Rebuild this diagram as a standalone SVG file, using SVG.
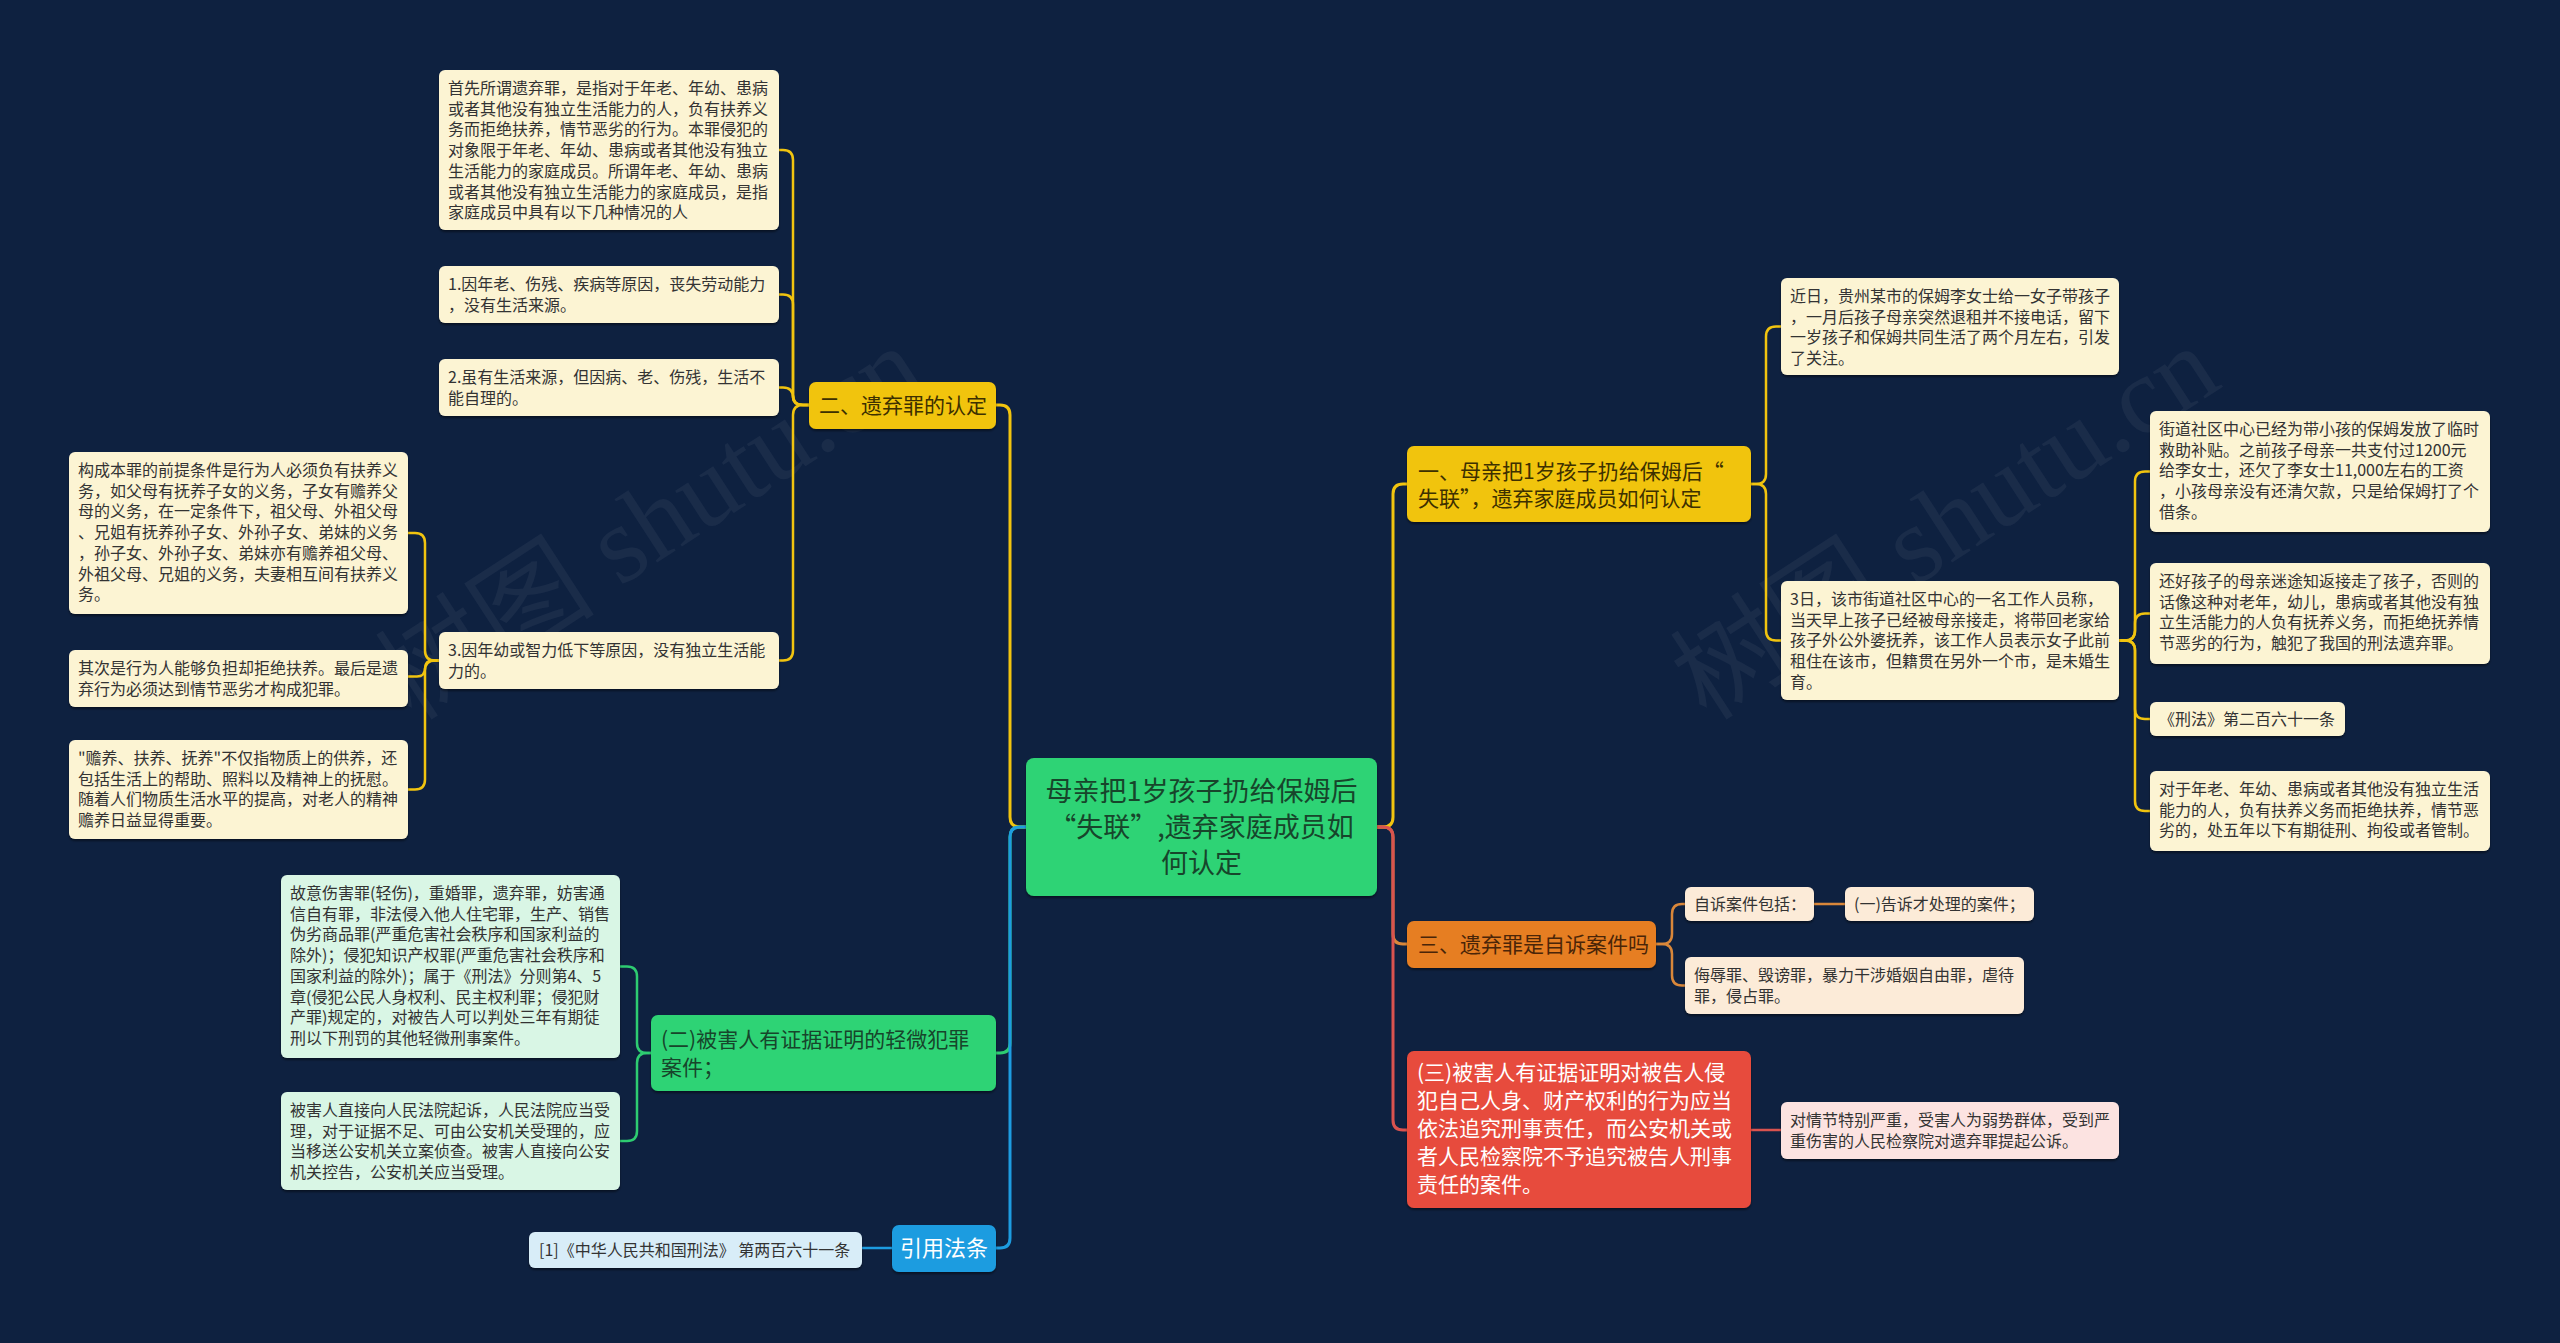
<svg xmlns="http://www.w3.org/2000/svg" width="2560" height="1343" viewBox="0 0 2560 1343">
<defs>
<filter id="sh" x="-5%" y="-5%" width="110%" height="120%"><feDropShadow dx="0" dy="2" stdDeviation="1.2" flood-color="#000" flood-opacity="0.45"/></filter>
</defs>
<style>
text{font-family:"Noto Sans CJK SC","Noto Sans",sans-serif;}
.lf{font-size:16px;fill:#333;}
.cream{fill:#fcf4d3;}
.mint{fill:#d9f6e5;}
.sky{fill:#d8edf8;}
.peach{fill:#fcebd8;}
.pink{fill:#fce3e1;}
.box{filter:url(#sh);}
.c{fill:none;stroke-linecap:round;stroke-linejoin:round;}
.y{stroke:#f1c40f;}
.g{stroke:#2ecc71;}
.b{stroke:#1d9ce0;}
.o{stroke:#d9873a;}
.r{stroke:#d9534f;}
.w1{stroke-width:3;}
.w2{stroke-width:2.5;}
.ct{font-size:27px;fill:#17452b;}
.wm{font-family:"Liberation Serif","Noto Sans CJK SC",serif;font-size:110px;fill:#ffffff;fill-opacity:0.05;}
</style>
<rect width="2560" height="1343" fill="#0e2140"/>

<g id="watermarks">
<text class="wm" x="650" y="560" text-anchor="middle" transform="rotate(-33 650 522)">树图 shutu.cn</text>
<text class="wm" x="1945" y="560" text-anchor="middle" transform="rotate(-33 1945 522)">树图 shutu.cn</text>
</g>

<g id="connectors">
<path class="c y w1" d="M1026 827 H1020 Q1010 827 1010 817 V415 Q1010 405 1000 405 H996"/>
<path class="c g w1" d="M1026 827 H1020 Q1010 827 1010 837 V1043 Q1010 1053 1000 1053 H996"/>
<path class="c b w1" d="M1026 827 H1020 Q1010 827 1010 837 V1238 Q1010 1248 1000 1248 H996"/>
<path class="c y w1" d="M1377 827 H1383 Q1393 827 1393 817 V494 Q1393 484 1403 484 H1407"/>
<path class="c o w1" d="M1377 827 H1383 Q1393 827 1393 837 V934 Q1393 944 1403 944 H1407"/>
<path class="c r w1" d="M1377 827 H1383 Q1393 827 1393 837 V1120 Q1393 1130 1403 1130 H1407"/>

<path class="c y w2" d="M809 405 H803 Q793 405 793 395 V160 Q793 150 783 150 H779"/>
<path class="c y w2" d="M809 405 H803 Q793 405 793 395 V304.5 Q793 294.5 783 294.5 H779"/>
<path class="c y w2" d="M809 405 H803 Q793 405 793 397.5 Q793 387.5 783 387.5 H779"/>
<path class="c y w2" d="M809 405 H803 Q793 405 793 415 V650.5 Q793 660.5 783 660.5 H779"/>

<path class="c y w2" d="M439 660.5 H435 Q425 660.5 425 650.5 V543 Q425 533 415 533 H408"/>
<path class="c y w2" d="M439 660.5 H433 Q425 660.5 425 668.5 Q425 676.5 417 676.5 H408"/>
<path class="c y w2" d="M439 660.5 H435 Q425 660.5 425 670.5 V779.5 Q425 789.5 415 789.5 H408"/>

<path class="c g w2" d="M651 1053 H647 Q637 1053 637 1043 V976.5 Q637 966.5 627 966.5 H620"/>
<path class="c g w2" d="M651 1053 H647 Q637 1053 637 1063 V1131 Q637 1141 627 1141 H620"/>

<path class="c b w2" d="M892 1248 H862"/>

<path class="c y w2" d="M1751 484 H1756 Q1766 484 1766 474 V336.5 Q1766 326.5 1776 326.5 H1781"/>
<path class="c y w2" d="M1751 484 H1756 Q1766 484 1766 494 V630.5 Q1766 640.5 1776 640.5 H1781"/>

<path class="c y w2" d="M2119 640.5 H2125 Q2135 640.5 2135 630.5 V481.5 Q2135 471.5 2145 471.5 H2150"/>
<path class="c y w2" d="M2119 640.5 H2125 Q2135 640.5 2135 630.5 V623.5 Q2135 613.5 2145 613.5 H2150"/>
<path class="c y w2" d="M2119 640.5 H2125 Q2135 640.5 2135 650.5 V709 Q2135 719 2145 719 H2150"/>
<path class="c y w2" d="M2119 640.5 H2125 Q2135 640.5 2135 650.5 V801 Q2135 811 2145 811 H2150"/>

<path class="c o w2" d="M1656 944 H1662 Q1672 944 1672 934 V914 Q1672 904 1682 904 H1685"/>
<path class="c o w2" d="M1656 944 H1662 Q1672 944 1672 954 V975.5 Q1672 985.5 1682 985.5 H1685"/>
<path class="c o w2" d="M1814 904 H1845"/>

<path class="c r w2" d="M1751 1130 H1781"/>
</g>

<g id="central">
<rect class="box" x="1026" y="758" width="351" height="138" rx="8" fill="#2fd374"/>
<text class="ct" x="1201.5" y="801" text-anchor="middle">母亲把1岁孩子扔给保姆后</text>
<text class="ct" x="1201.5" y="837" text-anchor="middle">“失联”,遗弃家庭成员如</text>
<text class="ct" x="1201.5" y="873" text-anchor="middle">何认定</text>
</g>

<g id="n-left-yellow">
<rect class="box" x="809" y="382" width="187" height="47" rx="7" fill="#f1c40f"/>
<text x="819" y="413" font-size="21" fill="#3d3000">二、遗弃罪的认定</text>
</g>

<g id="n-A">
<rect class="box cream" x="439" y="70" width="340" height="160" rx="6"/>
<text class="lf" x="448" y="94">首先所谓遗弃罪，是指对于年老、年幼、患病</text>
<text class="lf" x="448" y="114.7">或者其他没有独立生活能力的人，负有扶养义</text>
<text class="lf" x="448" y="135.4">务而拒绝扶养，情节恶劣的行为。本罪侵犯的</text>
<text class="lf" x="448" y="156.1">对象限于年老、年幼、患病或者其他没有独立</text>
<text class="lf" x="448" y="176.8">生活能力的家庭成员。所谓年老、年幼、患病</text>
<text class="lf" x="448" y="197.5">或者其他没有独立生活能力的家庭成员，是指</text>
<text class="lf" x="448" y="218.2">家庭成员中具有以下几种情况的人</text>
</g>

<g id="n-B">
<rect class="box cream" x="439" y="266" width="340" height="57" rx="6"/>
<text class="lf" x="448" y="290">1.因年老、伤残、疾病等原因，丧失劳动能力</text>
<text class="lf" x="448" y="310.7">，没有生活来源。</text>
</g>

<g id="n-C">
<rect class="box cream" x="439" y="359" width="340" height="57" rx="6"/>
<text class="lf" x="448" y="383">2.虽有生活来源，但因病、老、伤残，生活不</text>
<text class="lf" x="448" y="403.7">能自理的。</text>
</g>

<g id="n-D">
<rect class="box cream" x="439" y="632" width="340" height="57" rx="6"/>
<text class="lf" x="448" y="656">3.因年幼或智力低下等原因，没有独立生活能</text>
<text class="lf" x="448" y="676.7">力的。</text>
</g>

<g id="n-E">
<rect class="box cream" x="69" y="452" width="339" height="162" rx="6"/>
<text class="lf" x="78" y="476">构成本罪的前提条件是行为人必须负有扶养义</text>
<text class="lf" x="78" y="496.7">务，如父母有抚养子女的义务，子女有赡养父</text>
<text class="lf" x="78" y="517.4">母的义务，在一定条件下，祖父母、外祖父母</text>
<text class="lf" x="78" y="538.1">、兄姐有抚养孙子女、外孙子女、弟妹的义务</text>
<text class="lf" x="78" y="558.8">，孙子女、外孙子女、弟妹亦有赡养祖父母、</text>
<text class="lf" x="78" y="579.5">外祖父母、兄姐的义务，夫妻相互间有扶养义</text>
<text class="lf" x="78" y="600.2">务。</text>
</g>

<g id="n-F">
<rect class="box cream" x="69" y="650" width="339" height="57" rx="6"/>
<text class="lf" x="78" y="674">其次是行为人能够负担却拒绝扶养。最后是遗</text>
<text class="lf" x="78" y="694.7">弃行为必须达到情节恶劣才构成犯罪。</text>
</g>

<g id="n-G">
<rect class="box cream" x="69" y="740" width="339" height="99" rx="6"/>
<text class="lf" x="78" y="764">"赡养、扶养、抚养"不仅指物质上的供养，还</text>
<text class="lf" x="78" y="784.7">包括生活上的帮助、照料以及精神上的抚慰。</text>
<text class="lf" x="78" y="805.4">随着人们物质生活水平的提高，对老人的精神</text>
<text class="lf" x="78" y="826.1">赡养日益显得重要。</text>
</g>

<g id="n-left-green">
<rect class="box" x="651" y="1015" width="345" height="76" rx="7" fill="#2fd374"/>
<text x="661" y="1047" font-size="21" fill="#17452b">(二)被害人有证据证明的轻微犯罪</text>
<text x="661" y="1075" font-size="21" fill="#17452b">案件；</text>
</g>

<g id="n-H">
<rect class="box mint" x="281" y="875" width="339" height="183" rx="6"/>
<text class="lf" x="290" y="899">故意伤害罪(轻伤)，重婚罪，遗弃罪，妨害通</text>
<text class="lf" x="290" y="919.7">信自有罪，非法侵入他人住宅罪，生产、销售</text>
<text class="lf" x="290" y="940.4">伪劣商品罪(严重危害社会秩序和国家利益的</text>
<text class="lf" x="290" y="961.1">除外)；侵犯知识产权罪(严重危害社会秩序和</text>
<text class="lf" x="290" y="981.8">国家利益的除外)；属于《刑法》分则第4、5</text>
<text class="lf" x="290" y="1002.5">章(侵犯公民人身权利、民主权利罪；侵犯财</text>
<text class="lf" x="290" y="1023.2">产罪)规定的，对被告人可以判处三年有期徒</text>
<text class="lf" x="290" y="1043.9">刑以下刑罚的其他轻微刑事案件。</text>
</g>

<g id="n-I">
<rect class="box mint" x="281" y="1092" width="339" height="98" rx="6"/>
<text class="lf" x="290" y="1116">被害人直接向人民法院起诉，人民法院应当受</text>
<text class="lf" x="290" y="1136.7">理，对于证据不足、可由公安机关受理的，应</text>
<text class="lf" x="290" y="1157.4">当移送公安机关立案侦查。被害人直接向公安</text>
<text class="lf" x="290" y="1178.1">机关控告，公安机关应当受理。</text>
</g>

<g id="n-left-blue">
<rect class="box" x="892" y="1225" width="104" height="47" rx="7" fill="#1d9ce0"/>
<text x="944" y="1256" font-size="22" fill="#ffffff" text-anchor="middle">引用法条</text>
</g>

<g id="n-law">
<rect class="box sky" x="529" y="1232" width="333" height="36" rx="6"/>
<text class="lf" x="539" y="1256">[1]《中华人民共和国刑法》 第两百六十一条</text>
</g>

<g id="n-right-yellow">
<rect class="box" x="1407" y="446" width="344" height="76" rx="7" fill="#f1c40f"/>
<text x="1418" y="479" font-size="21" fill="#3d3000">一、母亲把1岁孩子扔给保姆后“</text>
<text x="1418" y="506" font-size="21" fill="#3d3000">失联”，遗弃家庭成员如何认定</text>
</g>

<g id="n-J">
<rect class="box cream" x="1781" y="278" width="338" height="97" rx="6"/>
<text class="lf" x="1790" y="302">近日，贵州某市的保姆李女士给一女子带孩子</text>
<text class="lf" x="1790" y="322.7">，一月后孩子母亲突然退租并不接电话，留下</text>
<text class="lf" x="1790" y="343.4">一岁孩子和保姆共同生活了两个月左右，引发</text>
<text class="lf" x="1790" y="364.1">了关注。</text>
</g>

<g id="n-K">
<rect class="box cream" x="1781" y="581" width="338" height="119" rx="6"/>
<text class="lf" x="1790" y="605">3日，该市街道社区中心的一名工作人员称，</text>
<text class="lf" x="1790" y="625.7">当天早上孩子已经被母亲接走，将带回老家给</text>
<text class="lf" x="1790" y="646.4">孩子外公外婆抚养，该工作人员表示女子此前</text>
<text class="lf" x="1790" y="667.1">租住在该市，但籍贯在另外一个市，是未婚生</text>
<text class="lf" x="1790" y="687.8">育。</text>
</g>

<g id="n-L">
<rect class="box cream" x="2150" y="411" width="340" height="121" rx="6"/>
<text class="lf" x="2159" y="435">街道社区中心已经为带小孩的保姆发放了临时</text>
<text class="lf" x="2159" y="455.7">救助补贴。之前孩子母亲一共支付过1200元</text>
<text class="lf" x="2159" y="476.4">给李女士，还欠了李女士11,000左右的工资</text>
<text class="lf" x="2159" y="497.1">，小孩母亲没有还清欠款，只是给保姆打了个</text>
<text class="lf" x="2159" y="517.8">借条。</text>
</g>

<g id="n-M">
<rect class="box cream" x="2150" y="563" width="340" height="101" rx="6"/>
<text class="lf" x="2159" y="587">还好孩子的母亲迷途知返接走了孩子，否则的</text>
<text class="lf" x="2159" y="607.7">话像这种对老年，幼儿，患病或者其他没有独</text>
<text class="lf" x="2159" y="628.4">立生活能力的人负有抚养义务，而拒绝抚养情</text>
<text class="lf" x="2159" y="649.1">节恶劣的行为，触犯了我国的刑法遗弃罪。</text>
</g>

<g id="n-N">
<rect class="box cream" x="2150" y="702" width="195" height="34" rx="6"/>
<text class="lf" x="2159" y="725">《刑法》第二百六十一条</text>
</g>

<g id="n-O">
<rect class="box cream" x="2150" y="771" width="340" height="80" rx="6"/>
<text class="lf" x="2159" y="795">对于年老、年幼、患病或者其他没有独立生活</text>
<text class="lf" x="2159" y="815.7">能力的人，负有扶养义务而拒绝扶养，情节恶</text>
<text class="lf" x="2159" y="836.4">劣的，处五年以下有期徒刑、拘役或者管制。</text>
</g>

<g id="n-right-orange">
<rect class="box" x="1407" y="921" width="249" height="47" rx="7" fill="#e67e22"/>
<text x="1418" y="952" font-size="21" fill="#4a2508">三、遗弃罪是自诉案件吗</text>
</g>

<g id="n-P">
<rect class="box peach" x="1685" y="887" width="129" height="34" rx="6"/>
<text class="lf" x="1694" y="910">自诉案件包括：</text>
</g>

<g id="n-Q">
<rect class="box peach" x="1845" y="887" width="189" height="34" rx="6"/>
<text class="lf" x="1854" y="910">(一)告诉才处理的案件；</text>
</g>

<g id="n-R">
<rect class="box peach" x="1685" y="957" width="339" height="57" rx="6"/>
<text class="lf" x="1694" y="981">侮辱罪、毁谤罪，暴力干涉婚姻自由罪，虐待</text>
<text class="lf" x="1694" y="1001.7">罪，侵占罪。</text>
</g>

<g id="n-right-red">
<rect class="box" x="1407" y="1051" width="344" height="157" rx="7" fill="#e74c3c"/>
<text x="1417" y="1080" font-size="21" fill="#ffffff">(三)被害人有证据证明对被告人侵</text>
<text x="1417" y="1108" font-size="21" fill="#ffffff">犯自己人身、财产权利的行为应当</text>
<text x="1417" y="1136" font-size="21" fill="#ffffff">依法追究刑事责任，而公安机关或</text>
<text x="1417" y="1164" font-size="21" fill="#ffffff">者人民检察院不予追究被告人刑事</text>
<text x="1417" y="1192" font-size="21" fill="#ffffff">责任的案件。</text>
</g>

<g id="n-S">
<rect class="box pink" x="1781" y="1102" width="338" height="57" rx="6"/>
<text class="lf" x="1790" y="1126">对情节特别严重，受害人为弱势群体，受到严</text>
<text class="lf" x="1790" y="1146.7">重伤害的人民检察院对遗弃罪提起公诉。</text>
</g>
</svg>
